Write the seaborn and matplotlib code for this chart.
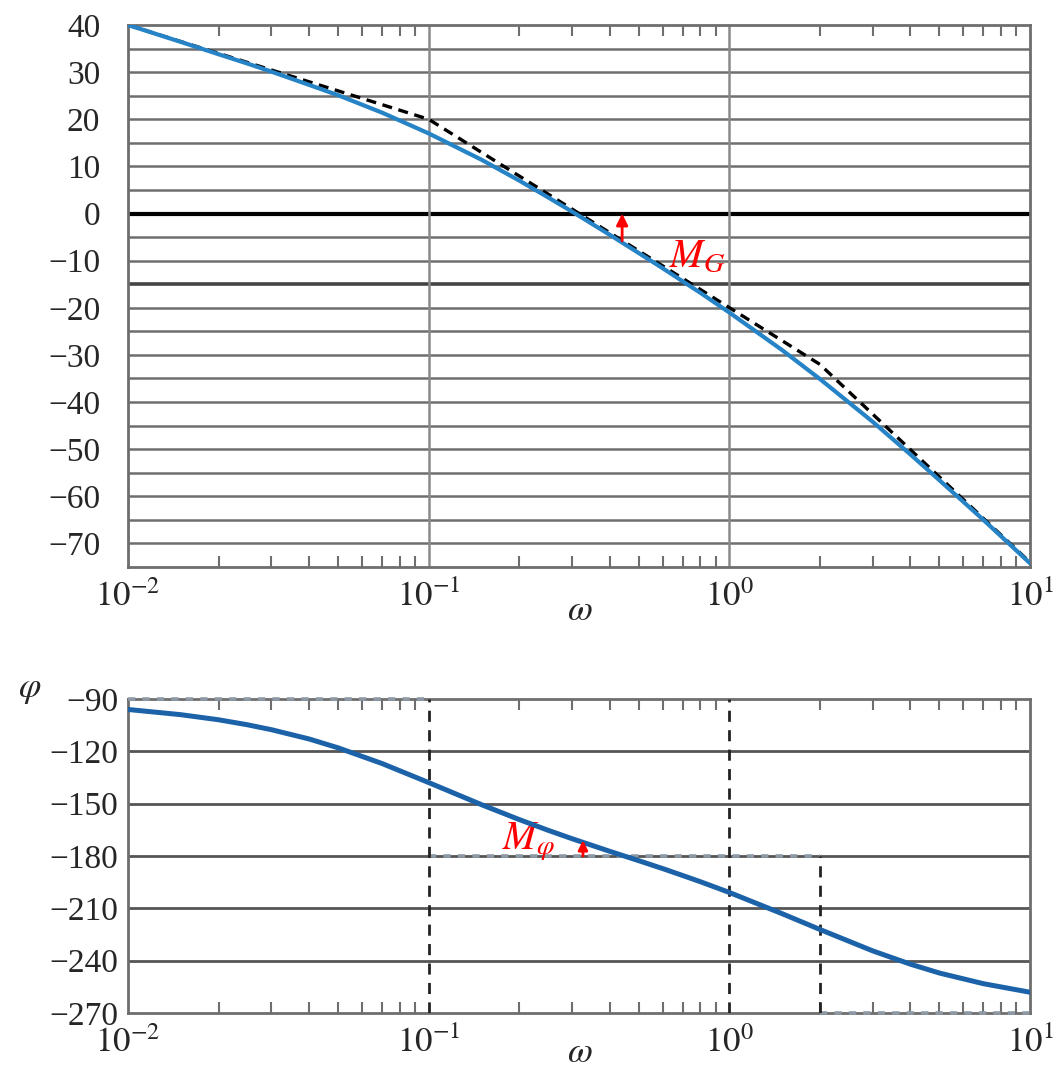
import matplotlib
matplotlib.use("Agg")
import matplotlib.pyplot as plt
import matplotlib.ticker as mticker
import pandas as pd
import seaborn as sns

# values
omega = [0.01, 0.015, 0.02, 0.025, 0.03, 0.04, 0.05, 0.07, 0.1, 0.15, 0.2, 0.25, 0.3, 0.4, 0.5,
         0.6, 0.7, 0.8, 1.0, 1.5, 2.0, 3.0, 4.0, 5.0, 7.0, 10.0]
gain_db = [40.0, 36.4, 33.8, 31.8, 30.1, 27.3, 25.1, 21.4, 17.0, 11.4, 7.0, 3.4, 0.4, -4.5, -8.4,
           -11.6, -14.4, -16.8, -21.0, -29.0, -35.1, -44.2, -51.1, -56.6, -65.0, -74.2]
phase_deg = [-96.0, -99.0, -101.9, -104.8, -107.6, -112.9, -118.0, -127.0, -137.9, -150.6,
             -159.1, -165.3, -170.1, -177.3, -182.7, -187.2, -191.2, -194.7, -200.9, -213.1,
             -222.1, -234.4, -242.0, -247.1, -253.2, -258.1]

# asymptotes
asym_w = [0.01, 0.1, 2.0, 10.0]
asym_db = [40.0, 20.0, -32.0, -74.0]
ph_h_y = [-90, -180, -270]
ph_h_x0 = [0.01, 0.1, 2.0]
ph_h_x1 = [0.1, 2.0, 10.0]
ph_v_x = [0.1, 1.0, 2.0]
ph_v_y0 = [-270, -270, -270]
ph_v_y1 = [-90, -90, -180]

# margins
mg_w, mg_from, mg_to = 0.44, -5.8, 0.0
pm_w, pm_from, pm_to = 0.326, -180.0, -171.0

gain_ticks = [40, 30, 20, 10, 0, -10, -20, -30, -40, -50, -60, -70]
gain_lines = [35, 30, 25, 20, 15, 10, 5, 0, -5, -10, -15, -20, -25, -30, -35, -40,
              -45, -50, -55, -60, -65, -70]
phase_ticks = [-90, -120, -150, -180, -210, -240, -270]
x_ticks = [0.01, 0.1, 1, 10]
x_labels = ["$10^{-2}$", "$10^{-1}$", "$10^{0}$", "$10^{1}$"]

sns.set_theme(style="white")
plt.rcParams["font.family"] = ["Liberation Serif", "DejaVu Serif"]
plt.rcParams["mathtext.fontset"] = "stix"

fig = plt.figure(figsize=(10.53, 10.70), dpi=100)
W, H = 1053, 1070
ax1 = fig.add_axes([128 / W, 1 - 567 / H, 902 / W, 542 / H])
ax2 = fig.add_axes([128 / W, 1 - 1013 / H, 902 / W, 314 / H])

grid_c = "#6e6e6e"

def style_axis(ax):
    ax.set_xscale("log")
    ax.set_xlim(0.01, 10)
    ax.set_xticks(x_ticks)
    ax.set_xticklabels(x_labels, fontsize=25)
    ax.xaxis.set_minor_locator(mticker.LogLocator(base=10, subs=[2, 3, 4, 5, 6, 7, 8, 9]))
    ax.xaxis.set_minor_formatter(mticker.NullFormatter())
    ax.tick_params(axis="x", which="major", length=0, pad=10)
    ax.tick_params(axis="x", which="minor", direction="in", length=8, width=1.5,
                   color=grid_c, top=True, bottom=True)
    ax.tick_params(axis="y", length=0, labelsize=24)
    for s in ax.spines.values():
        s.set_color(grid_c)
        s.set_linewidth(2)
        s.set_visible(True)
    ax.set_xlabel("")
    ax.set_ylabel("")

# ---- gain plot
df_g = pd.DataFrame({"w": omega, "g": gain_db})
df_a = pd.DataFrame({"w": asym_w, "g": asym_db})
for y in gain_lines:
    if y == 0:
        ax1.axhline(y, color="black", lw=3, zorder=1)
    elif y == -15:
        ax1.axhline(y, color="#444444", lw=2.6, zorder=1)
    else:
        ax1.axhline(y, color=grid_c, lw=1.8, zorder=1)
for xv in [0.1, 1.0]:
    ax1.axvline(xv, color="#8a8a8a", lw=1.8, zorder=1)
sns.lineplot(data=df_a, x="w", y="g", ax=ax1, color="black", lw=2.4,
             linestyle=(0, (3, 2)), estimator=None, sort=False, zorder=3)
sns.lineplot(data=df_g, x="w", y="g", ax=ax1, color="#2583c6", lw=3,
             estimator=None, sort=False, zorder=4)
style_axis(ax1)
ax1.set_ylim(-75, 40)
ax1.set_yticks(gain_ticks)
ax1.set_yticklabels([str(t).replace("-", "\u2212") for t in gain_ticks])
ax1.tick_params(axis="y", pad=20)
ax1.annotate("", xy=(mg_w, mg_to), xytext=(mg_w, mg_from),
             arrowprops=dict(arrowstyle="-|>", color="red", lw=2, mutation_scale=17,
                             shrinkA=0, shrinkB=0), zorder=5)
ax1.text(0.63, -11.3, "$M_G$", color="red", fontsize=29, va="baseline", ha="left")
ax1.text(0.501, -0.082, "$\\omega$", transform=ax1.transAxes, fontsize=26,
         ha="center", va="center")

# ---- phase plot
df_p = pd.DataFrame({"w": omega, "p": phase_deg})
for y in phase_ticks[1:-1]:
    ax2.axhline(y, color="#555555", lw=2, zorder=1)
ax2.hlines(ph_h_y, ph_h_x0, ph_h_x1, colors="#8d9aa6", lw=2.6,
           linestyles=[(0, (2, 2))], zorder=3, clip_on=False)
ax2.vlines(ph_v_x, ph_v_y0, ph_v_y1, colors="#222222", lw=2,
           linestyles=[(0, (4, 3))], zorder=3)
sns.lineplot(data=df_p, x="w", y="p", ax=ax2, color="#1c62a8", lw=3.6,
             estimator=None, sort=False, zorder=4)
style_axis(ax2)
ax2.set_ylim(-270, -90)
ax2.set_yticks(phase_ticks)
ax2.set_yticklabels([str(t).replace("-", "\u2212") for t in phase_ticks])
ax2.tick_params(axis="y", pad=7)
ax2.annotate("", xy=(pm_w, pm_to), xytext=(pm_w, pm_from),
             arrowprops=dict(arrowstyle="-|>", color="red", lw=2, mutation_scale=14,
                             shrinkA=0, shrinkB=0), zorder=5)
ax2.text(0.175, -176.5, "$M_\\varphi$", color="red", fontsize=29, va="baseline", ha="left")
ax2.text(0.501, -0.13, "$\\omega$", transform=ax2.transAxes, fontsize=26,
         ha="center", va="center")
fig.text(18 / W, 1 - 690 / H, "$\\varphi$", fontsize=26, ha="left", va="center")

fig.savefig("out.png", dpi=100, facecolor="white")
